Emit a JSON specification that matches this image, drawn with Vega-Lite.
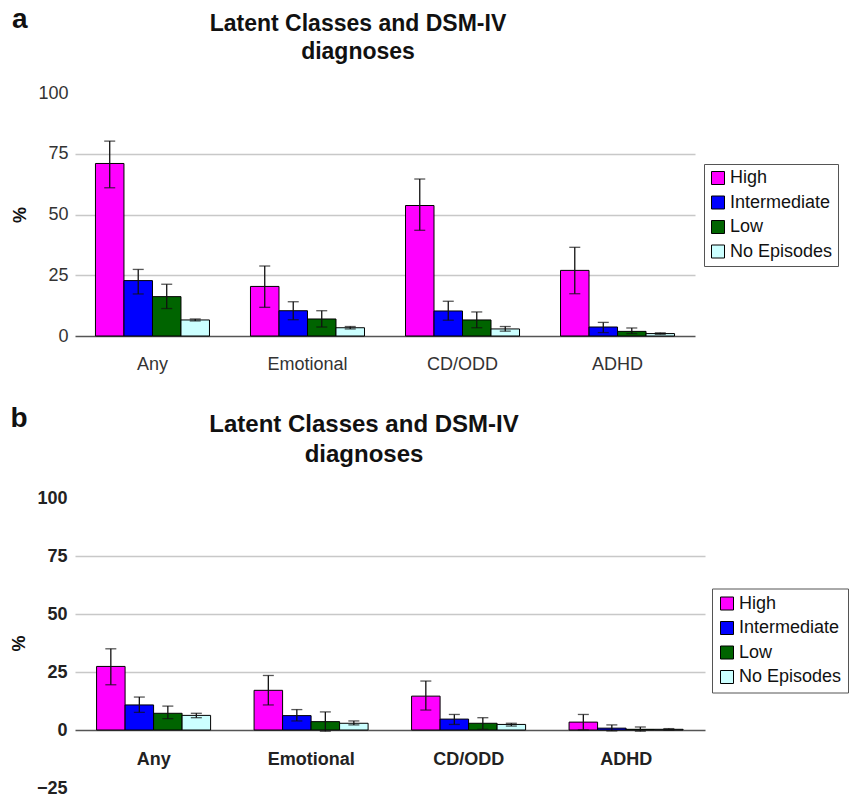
{
  "$schema": "https://vega.github.io/schema/vega-lite/v6.json",
  "background": "white",
  "padding": {"left": 10, "top": 6, "right": 0, "bottom": 0},
  "config": {
    "font": "Liberation Sans",
    "view": {"stroke": null},
    "axis": {"ticks": false, "labelColor": "#222", "titleColor": "#111"}
  },
  "datasets": {
    "a": [
      {"diag": "Any", "cls": "High", "pct": 71.0, "lo": 61.0, "hi": 80.2},
      {"diag": "Any", "cls": "Intermediate", "pct": 22.8, "lo": 17.3, "hi": 27.4},
      {"diag": "Any", "cls": "Low", "pct": 16.2, "lo": 11.3, "hi": 21.3},
      {"diag": "Any", "cls": "No Episodes", "pct": 6.6, "lo": 6.2, "hi": 7.0},
      {"diag": "Emotional", "cls": "High", "pct": 20.4, "lo": 11.8, "hi": 28.8},
      {"diag": "Emotional", "cls": "Intermediate", "pct": 10.4, "lo": 6.7, "hi": 14.1},
      {"diag": "Emotional", "cls": "Low", "pct": 7.0, "lo": 3.7, "hi": 10.4},
      {"diag": "Emotional", "cls": "No Episodes", "pct": 3.4, "lo": 2.9, "hi": 3.9},
      {"diag": "CD/ODD", "cls": "High", "pct": 53.7, "lo": 43.5, "hi": 64.6},
      {"diag": "CD/ODD", "cls": "Intermediate", "pct": 10.3, "lo": 6.5, "hi": 14.3},
      {"diag": "CD/ODD", "cls": "Low", "pct": 6.6, "lo": 3.4, "hi": 9.9},
      {"diag": "CD/ODD", "cls": "No Episodes", "pct": 2.9, "lo": 2.0, "hi": 3.9},
      {"diag": "ADHD", "cls": "High", "pct": 27.0, "lo": 17.4, "hi": 36.5},
      {"diag": "ADHD", "cls": "Intermediate", "pct": 3.7, "lo": 1.4, "hi": 5.6},
      {"diag": "ADHD", "cls": "Low", "pct": 1.9, "lo": 1.0, "hi": 3.3},
      {"diag": "ADHD", "cls": "No Episodes", "pct": 1.0, "lo": 0.7, "hi": 1.3}
    ],
    "b": [
      {"diag": "Any", "cls": "High", "pct": 27.4, "lo": 19.5, "hi": 35.0},
      {"diag": "Any", "cls": "Intermediate", "pct": 10.8, "lo": 7.6, "hi": 14.2},
      {"diag": "Any", "cls": "Low", "pct": 7.2, "lo": 4.9, "hi": 10.3},
      {"diag": "Any", "cls": "No Episodes", "pct": 6.3, "lo": 5.3, "hi": 7.2},
      {"diag": "Emotional", "cls": "High", "pct": 17.1, "lo": 10.8, "hi": 23.5},
      {"diag": "Emotional", "cls": "Intermediate", "pct": 6.2, "lo": 3.9, "hi": 8.8},
      {"diag": "Emotional", "cls": "Low", "pct": 3.6, "lo": -0.5, "hi": 7.8},
      {"diag": "Emotional", "cls": "No Episodes", "pct": 2.9, "lo": 2.2, "hi": 3.9},
      {"diag": "CD/ODD", "cls": "High", "pct": 14.6, "lo": 8.6, "hi": 21.1},
      {"diag": "CD/ODD", "cls": "Intermediate", "pct": 4.7, "lo": 2.4, "hi": 6.7},
      {"diag": "CD/ODD", "cls": "Low", "pct": 2.9, "lo": 0.3, "hi": 5.3},
      {"diag": "CD/ODD", "cls": "No Episodes", "pct": 2.4, "lo": 1.7, "hi": 2.9},
      {"diag": "ADHD", "cls": "High", "pct": 3.4, "lo": 0.1, "hi": 6.7},
      {"diag": "ADHD", "cls": "Intermediate", "pct": 0.8, "lo": -0.4, "hi": 2.2},
      {"diag": "ADHD", "cls": "Low", "pct": 0.3, "lo": -0.5, "hi": 1.3},
      {"diag": "ADHD", "cls": "No Episodes", "pct": 0.3, "lo": 0.0, "hi": 0.6}
    ]
  },
  "spacing": 32,
  "resolve": {"scale": {"color": "independent"}, "legend": {"color": "independent"}},
  "vconcat": [
    {
      "title": {"text": "a", "anchor": "start", "frame": "bounds", "fontSize": 28, "fontWeight": "bold", "color": "#111", "dy": 21.5, "offset": 0},
      "resolve": {"scale": {"color": "independent"}, "legend": {"color": "independent"}},
      "vconcat": [
        {
          "width": 620,
          "height": 243,
          "title": {"text": ["Latent Classes and DSM-IV", "diagnoses"], "fontSize": 23, "fontWeight": "bold", "lineHeight": 28.7, "anchor": "middle", "frame": "group", "dx": -27, "offset": 19.5, "color": "#111"},
          "data": {"name": "a"},
          "encoding": {
            "x": {"field": "diag", "type": "nominal", "sort": ["Any", "Emotional", "CD/ODD", "ADHD"], "title": null,
                  "scale": {"paddingInner": 0.2645, "paddingOuter": 0.132},
                  "axis": {"labelAngle": 0, "labelFontSize": 18, "labelPadding": 19, "domainColor": "#555", "domainWidth": 1.5, "labelColor": "#333"}},
            "xOffset": {"field": "cls", "type": "nominal", "sort": ["High", "Intermediate", "Low", "No Episodes"], "scale": {"paddingInner": 0, "paddingOuter": 0}}
          },
          "layer": [
            {
              "mark": {"type": "bar", "stroke": "black", "strokeWidth": 1},
              "encoding": {
                "y": {"field": "pct", "type": "quantitative", "scale": {"domain": [0, 100], "nice": false},
                      "axis": {"values": [0, 25, 50, 75, 100], "title": "%", "titleFontSize": 18, "titleFontWeight": "bold", "titlePadding": 8,
                               "labelFontSize": 18, "labelPadding": 7, "labelColor": "#333", "domain": false,
                               "gridColor": "#C8C8C8", "gridWidth": 1.5,
                               "gridOpacity": {"condition": {"test": "datum.value === 0 || datum.value === 100", "value": 0}, "value": 1}}},
                "color": {"field": "cls", "type": "nominal", "sort": ["High", "Intermediate", "Low", "No Episodes"],
                          "scale": {"domain": ["High", "Intermediate", "Low", "No Episodes"], "range": ["#FF00FF", "#0000FF", "#006400", "#CCFFFF"]},
                          "legend": {"orient": "none", "legendX": 629, "legendY": 71, "title": null, "symbolType": "square", "symbolSize": 169,
                                     "symbolStrokeColor": "black", "symbolStrokeWidth": 1, "labelFontSize": 18, "labelColor": "#111", "rowPadding": 6.5,
                                     "padding": 5, "strokeColor": "#555", "fillColor": "white", "labelOffset": 3, "symbolOpacity": 1}}
              }
            },
            {
              "mark": {"type": "rule", "color": "#111", "strokeWidth": 1.3},
              "encoding": {"y": {"field": "lo", "type": "quantitative"}, "y2": {"field": "hi"}}
            },
            {
              "mark": {"type": "tick", "color": "#111", "size": 11, "thickness": 1.3},
              "encoding": {"y": {"field": "lo", "type": "quantitative"}}
            },
            {
              "mark": {"type": "tick", "color": "#111", "size": 11, "thickness": 1.3},
              "encoding": {"y": {"field": "hi", "type": "quantitative"}}
            }
          ]
        }
      ]
    },
    {
      "title": {"text": "b", "anchor": "start", "frame": "bounds", "fontSize": 28, "fontWeight": "bold", "color": "#111", "dy": 20, "offset": 0},
      "resolve": {"scale": {"color": "independent"}, "legend": {"color": "independent"}},
      "vconcat": [
        {
          "width": 630,
          "height": 290,
          "title": {"text": ["Latent Classes and DSM-IV", "diagnoses"], "fontSize": 24, "fontWeight": "bold", "lineHeight": 30, "anchor": "middle", "frame": "group", "dx": -26, "offset": 22, "color": "#111"},
          "data": {"name": "b"},
          "encoding": {
            "x": {"field": "diag", "type": "nominal", "sort": ["Any", "Emotional", "CD/ODD", "ADHD"], "title": null,
                  "scale": {"paddingInner": 0.274, "paddingOuter": 0.137},
                  "axis": {"labelAngle": 0, "labelFontSize": 18, "labelFontWeight": "bold", "labelPadding": 20, "offset": -58, "domainColor": "#555", "domainWidth": 1.5, "labelColor": "#222"}},
            "xOffset": {"field": "cls", "type": "nominal", "sort": ["High", "Intermediate", "Low", "No Episodes"], "scale": {"paddingInner": 0, "paddingOuter": 0}}
          },
          "layer": [
            {
              "mark": {"type": "bar", "stroke": "black", "strokeWidth": 1},
              "encoding": {
                "y": {"field": "pct", "type": "quantitative", "scale": {"domain": [-25, 100], "nice": false},
                      "axis": {"values": [-25, 0, 25, 50, 75, 100], "title": "%", "titleFontSize": 18, "titleFontWeight": "bold", "titlePadding": 8,
                               "labelFontSize": 18, "labelFontWeight": "bold", "labelPadding": 8, "labelColor": "#222", "domain": false,
                               "gridColor": "#C8C8C8", "gridWidth": 1.5,
                               "gridOpacity": {"condition": {"test": "datum.value === 0 || datum.value === 100 || datum.value === -25", "value": 0}, "value": 1}}},
                "color": {"field": "cls", "type": "nominal", "sort": ["High", "Intermediate", "Low", "No Episodes"],
                          "scale": {"domain": ["High", "Intermediate", "Low", "No Episodes"], "range": ["#FF00FF", "#0000FF", "#006400", "#CCFFFF"]},
                          "legend": {"orient": "none", "legendX": 637, "legendY": 90.5, "title": null, "symbolType": "square", "symbolSize": 169,
                                     "symbolStrokeColor": "black", "symbolStrokeWidth": 1, "labelFontSize": 18, "labelColor": "#111", "rowPadding": 6.5,
                                     "padding": 6, "strokeColor": "#555", "fillColor": "white", "labelOffset": 3, "symbolOpacity": 1}}
              }
            },
            {
              "mark": {"type": "rule", "color": "#111", "strokeWidth": 1.3},
              "encoding": {"y": {"field": "lo", "type": "quantitative"}, "y2": {"field": "hi"}}
            },
            {
              "mark": {"type": "tick", "color": "#111", "size": 11, "thickness": 1.3},
              "encoding": {"y": {"field": "lo", "type": "quantitative"}}
            },
            {
              "mark": {"type": "tick", "color": "#111", "size": 11, "thickness": 1.3},
              "encoding": {"y": {"field": "hi", "type": "quantitative"}}
            }
          ]
        }
      ]
    }
  ]
}
